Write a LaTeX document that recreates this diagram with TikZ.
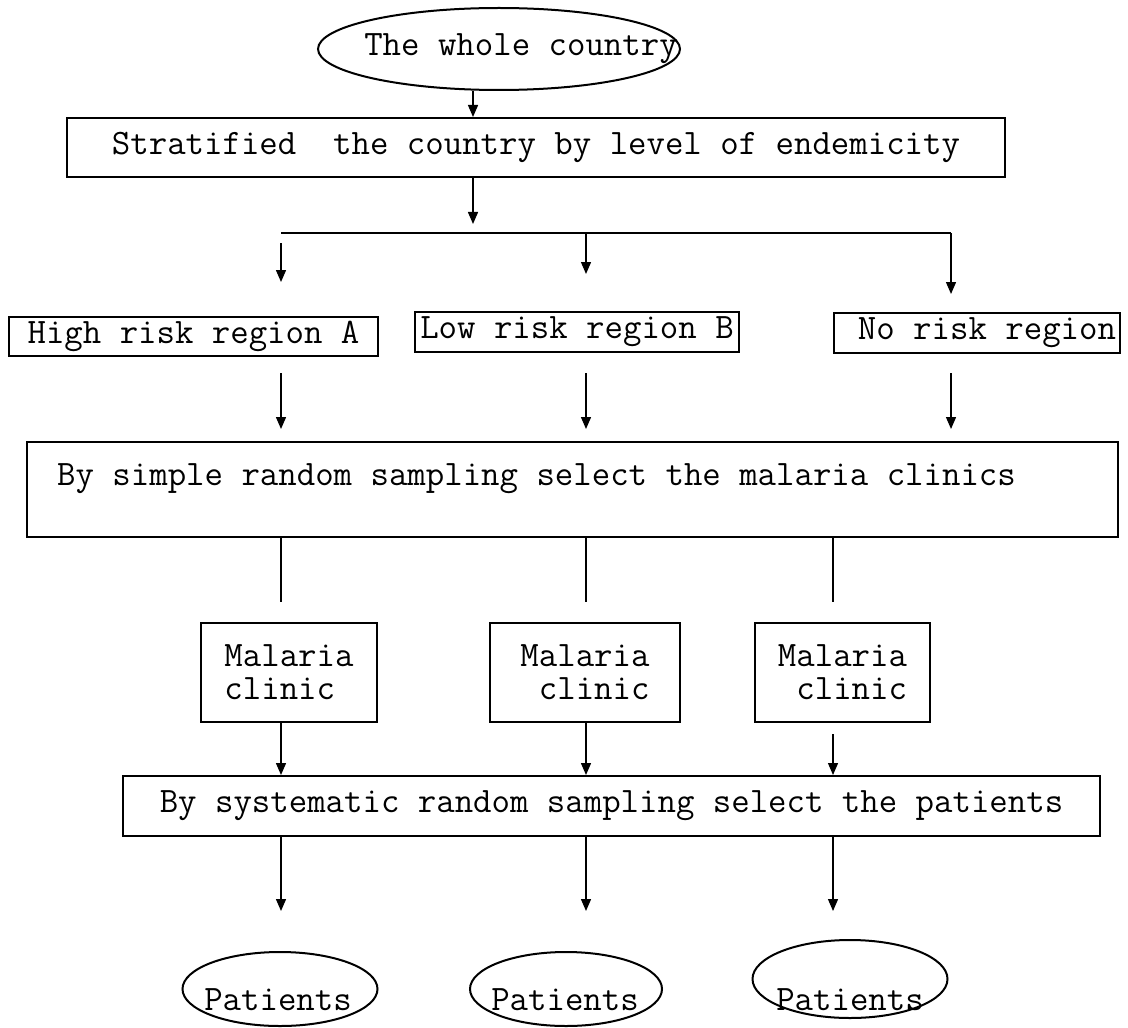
\documentclass[tikz,border=0pt]{standalone}
\usepackage{fontspec}
\usetikzlibrary{shapes.geometric,arrows.meta,positioning,calc}
\newcommand{\flowfont}{\ttfamily\fontsize{17.9}{16.5}\selectfont}

\begin{document}
\begin{tikzpicture}[x=0.5pt, y=-0.5pt,
  box/.style={rectangle, draw, line width=1pt, font=\flowfont, inner sep=0pt},
  oval/.style={ellipse, draw, line width=1pt, inner sep=0pt},
  txt/.style={font=\flowfont, inner sep=0pt},
  arr/.style={-{Triangle[length=6pt,width=5pt]}, line width=0.7pt},
  link/.style={line width=0.7pt}
]
\useasboundingbox (0,0) rectangle (1128,1027);

\node[oval, minimum width=181pt, minimum height=41pt] (whole) at (499,49) {};
\node[txt] (wholeTxt) at (521,49) {The whole country};
\node[box, minimum width=469pt, minimum height=29.5pt] (strat) at (536,147.5) {Stratified\ \ the country by level of endemicity};

\node[box, minimum width=184.5pt, minimum height=19.5pt] (high) at (193.5,336.5) {High risk region A};
\node[box, minimum width=162pt, minimum height=20pt] (low) at (577,332) {Low risk region B};
\node[box, minimum width=143pt, minimum height=20pt] (norisk) at (977,333) {\hspace*{10pt}No risk region};

\node[box, minimum width=545.5pt, minimum height=47.5pt, text height=11.5pt, text depth=15.8pt] (simple) at (572.5,489.5) {By simple random sampling select the malaria clinics\hspace*{36pt}};

\node[box, minimum width=88pt, minimum height=49.5pt, align=left] (clinA) at (289,672.5) {Malaria\\clinic};
\node[box, minimum width=95pt, minimum height=49.5pt, align=right] (clinB) at (585,672.5) {Malaria\\clinic};
\node[box, minimum width=87.5pt, minimum height=49.5pt, align=right] (clinC) at (842.5,672.5) {Malaria\\clinic};

\node[box, minimum width=488.5pt, minimum height=30pt] (syst) at (611.5,806) {By systematic random sampling select the patients};

\node[oval, minimum width=97.5pt, minimum height=37pt] (patA) at (280,989) {};
\node[txt] (patAtxt) at (278,1000) {Patients};
\node[oval, minimum width=96pt, minimum height=37pt] (patB) at (566,989) {};
\node[txt] (patBtxt) at (565,1000) {Patients};
\node[oval, minimum width=97.5pt, minimum height=39pt] (patC) at (850,979) {};
\node[txt] (patCtxt) at (850,1000) {Patients};

\coordinate (colS) at (473,0);
\coordinate (colA) at (281,0);
\coordinate (colB) at (586,0);
\coordinate (colN) at (951,0);
\coordinate (colC) at (833,0);
\coordinate (busL) at (281,233);
\coordinate (busR) at (951,233);

\draw[arr] (whole.south -| colS) -- (strat.north -| colS);
\draw[arr, shorten >=4.5pt] (strat.south -| colS) -- (busL -| colS);
\draw[link] (busL) -- (busR);
\draw[arr, shorten <=5pt, shorten >=17pt] (busL) -- (high.north -| busL);
\draw[arr, shorten >=18.5pt] (busL -| colB) -- (low.north -| colB);
\draw[arr, shorten >=9pt] (busR) -- (norisk.north -| busR);

\draw[arr, shorten <=8pt, shorten >=6pt] (high.south -| colA) -- (simple.north -| colA);
\draw[arr, shorten <=10pt, shorten >=6pt] (low.south -| colB) -- (simple.north -| colB);
\draw[arr, shorten <=9.5pt, shorten >=6pt] (norisk.south -| colN) -- (simple.north -| colN);

\foreach \c/\k in {colA/clinA, colB/clinB, colC/clinC}
  \draw[link, shorten >=10pt] (simple.south -| \c) -- (\k.north -| \c);

\draw[arr] (clinA.south -| colA) -- (syst.north -| colA);
\draw[arr] (clinB.south -| colB) -- (syst.north -| colB);
\draw[arr, shorten <=5.5pt] (clinC.south -| colC) -- (syst.north -| colC);

\foreach \c/\k/\s in {colA/patA/20pt, colB/patB/20pt, colC/patC/14pt}
  \draw[arr, shorten >=\s] (syst.south -| \c) -- (\k.north -| \c);
\end{tikzpicture}
\end{document}
